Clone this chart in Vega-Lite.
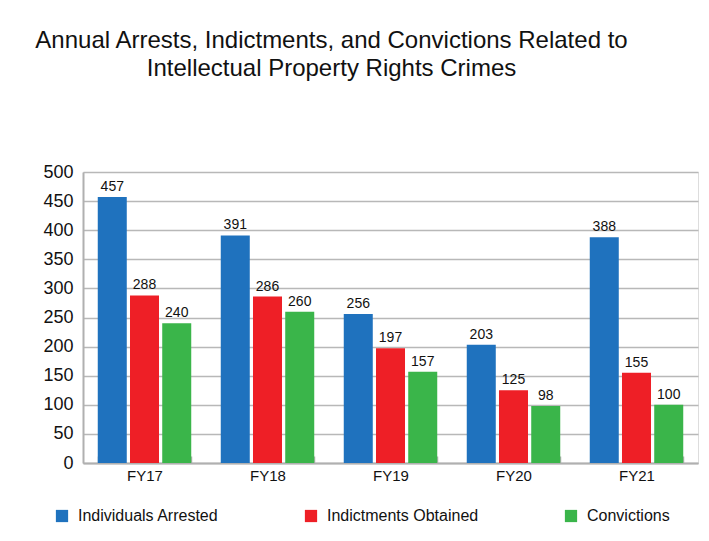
{
  "$schema": "https://vega.github.io/schema/vega-lite/v6.json",
  "width": 615,
  "height": 291,
  "autosize": "none",
  "padding": {"left": 83, "top": 172, "right": 11, "bottom": 78},
  "background": "white",
  "title": {
    "text": ["Annual Arrests, Indictments, and Convictions Related to", "Intellectual Property Rights Crimes"],
    "anchor": "middle",
    "dx": -59,
    "offset": 82,
    "font": "Liberation Sans",
    "fontSize": 24,
    "fontWeight": "normal",
    "lineHeight": 28,
    "color": "#111"
  },
  "data": {
    "values": [
      {"year": "FY17", "series": "Individuals Arrested", "value": 457},
      {"year": "FY17", "series": "Indictments Obtained", "value": 288},
      {"year": "FY17", "series": "Convictions", "value": 240},
      {"year": "FY18", "series": "Individuals Arrested", "value": 391},
      {"year": "FY18", "series": "Indictments Obtained", "value": 286},
      {"year": "FY18", "series": "Convictions", "value": 260},
      {"year": "FY19", "series": "Individuals Arrested", "value": 256},
      {"year": "FY19", "series": "Indictments Obtained", "value": 197},
      {"year": "FY19", "series": "Convictions", "value": 157},
      {"year": "FY20", "series": "Individuals Arrested", "value": 203},
      {"year": "FY20", "series": "Indictments Obtained", "value": 125},
      {"year": "FY20", "series": "Convictions", "value": 98},
      {"year": "FY21", "series": "Individuals Arrested", "value": 388},
      {"year": "FY21", "series": "Indictments Obtained", "value": 155},
      {"year": "FY21", "series": "Convictions", "value": 100}
    ]
  },
  "encoding": {
    "x": {
      "field": "year", "type": "nominal", "title": null,
      "scale": {"paddingInner": 0.24, "paddingOuter": 0.12},
      "axis": {
        "labelAngle": 0, "labelFont": "Liberation Sans", "labelFontSize": 15, "labelColor": "#111",
        "labelPadding": 12, "domainColor": "#b0b0b0", "domainWidth": 2,
        "tickBand": "extent", "tickSize": -7, "tickColor": "#b0b0b0", "tickWidth": 1.5
      }
    },
    "xOffset": {
      "field": "series", "type": "nominal",
      "sort": ["Individuals Arrested", "Indictments Obtained", "Convictions"],
      "scale": {"paddingInner": 0.1}
    },
    "y": {
      "field": "value", "type": "quantitative", "title": null,
      "scale": {"domain": [0, 500]},
      "axis": {
        "values": [0, 50, 100, 150, 200, 250, 300, 350, 400, 450, 500],
        "labelFont": "Liberation Sans", "labelFontSize": 18, "labelColor": "#111",
        "ticks": false, "labelPadding": 10,
        "domainColor": "#b0b0b0", "domainWidth": 2,
        "gridColor": "#b8b8b8", "gridWidth": 1.5
      }
    }
  },
  "layer": [
    {
      "mark": {"type": "bar"},
      "encoding": {
        "color": {
          "field": "series", "type": "nominal",
          "sort": ["Individuals Arrested", "Indictments Obtained", "Convictions"],
          "scale": {
            "domain": ["Individuals Arrested", "Indictments Obtained", "Convictions"],
            "range": ["#1F72BE", "#EE1F26", "#3AB54A"]
          },
          "legend": {
            "title": null, "orient": "none", "direction": "horizontal",
            "legendX": -29, "legendY": 336, "columns": 3, "columnPadding": 84,
            "symbolType": "square", "symbolSize": 150, "symbolStrokeWidth": 0,
            "labelFont": "Liberation Sans", "labelFontSize": 16, "labelColor": "#111",
            "labelOffset": 8,
            "encode": {
              "symbols": {"update": {"fill": {"signal": "datum.value === 'Convictions' ? '#00924A' : scale('color', datum.value)"}, "opacity": {"value": 1}}}
            }
          }
        }
      }
    },
    {
      "mark": {"type": "text", "baseline": "bottom", "dy": -3, "font": "Liberation Sans", "fontSize": 14, "color": "#111"},
      "encoding": {"text": {"field": "value", "type": "quantitative"}}
    }
  ]
}
